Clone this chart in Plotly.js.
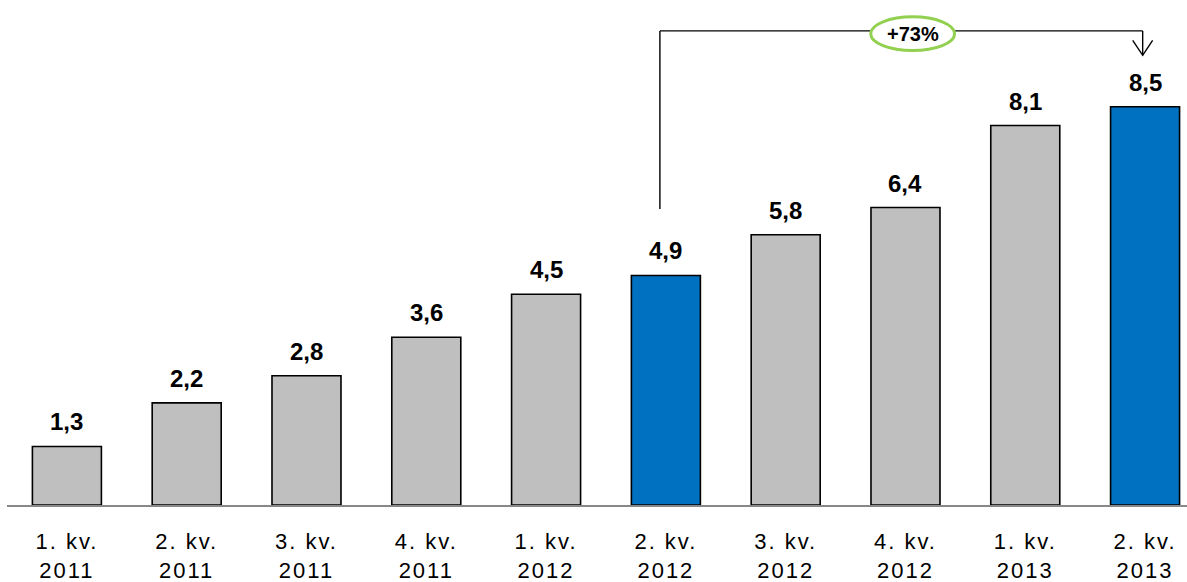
<!DOCTYPE html>
<html>
<head>
<meta charset="utf-8">
<script src="https://cdn.plot.ly/plotly-3.0.1.min.js"></script>
<style>
html,body{margin:0;padding:0;background:#fff}
#chart{width:1187px;height:582px}
#chart .xtick text{letter-spacing:2px}
</style>
</head>
<body>
<div id="chart"></div>
<script>
const quarters = ["1. kv.", "2. kv.", "3. kv.", "4. kv.", "1. kv.", "2. kv.", "3. kv.", "4. kv.", "1. kv.", "2. kv."];
const years = ["2011", "2011", "2011", "2011", "2012", "2012", "2012", "2012", "2013", "2013"];
const values = [1.25, 2.18, 2.76, 3.58, 4.5, 4.9, 5.77, 6.35, 8.1, 8.5];
const valueLabels = ["1,3", "2,2", "2,8", "3,6", "4,5", "4,9", "5,8", "6,4", "8,1", "8,5"];
const highlighted = [false, false, false, false, false, true, false, false, false, true];
const growthLabel = "+73%";

const GRAY = "#BFBFBF", BLUE = "#0070C0";
const FONT = "Liberation Sans, Arial, Helvetica, sans-serif";

const xIdx = values.map((v, i) => i);
const tickText = quarters.map((q, i) => q + "<br>" + years[i]);

const trace = {
  type: "bar",
  x: xIdx,
  y: values,
  width: 0.576,
  marker: {
    color: highlighted.map(h => h ? BLUE : GRAY),
    line: {color: "#000", width: 1.6}
  },
  hoverinfo: "skip"
};

const annotations = values.map((v, i) => ({
  x: i, y: v, xref: "x", yref: "y",
  text: "<b>" + valueLabels[i] + "</b>",
  showarrow: false, yanchor: "bottom", yshift: 9,
  font: {family: FONT, size: 24, color: "#000"}
}));

const from = 5, to = 9;
const topY = 10.12;
const vx0 = from - 0.05, vx1 = to - 0.02;
const tipY = 9.6;
const ovalCx = 7.06, ovalCy = 10.06;
annotations.push({
  x: ovalCx, y: ovalCy, xref: "x", yref: "y",
  text: "<b>" + growthLabel + "</b>", showarrow: false,
  font: {family: FONT, size: 20, color: "#000"}
});

const shapes = [
  {type: "line", xref: "x", yref: "y", x0: vx0, x1: vx0, y0: values[from] + 1.42, y1: topY, line: {color: "#000", width: 1.4}},
  {type: "line", xref: "x", yref: "y", x0: vx0, x1: vx1, y0: topY, y1: topY, line: {color: "#000", width: 1.4}},
  {type: "line", xref: "x", yref: "y", x0: vx1, x1: vx1, y0: topY, y1: tipY, line: {color: "#000", width: 1.4}},
  {type: "path", xref: "x", yref: "y",
   path: `M ${vx1 - 0.083} ${tipY + 0.32} L ${vx1} ${tipY} L ${vx1 + 0.083} ${tipY + 0.32}`,
   line: {color: "#000", width: 1.4}},
  {type: "circle", xref: "x", yref: "y", x0: ovalCx - 0.35, x1: ovalCx + 0.35, y0: ovalCy - 0.36, y1: ovalCy + 0.36,
   fillcolor: "#fff", line: {color: "#92D050", width: 3}}
];

const layout = {
  width: 1187, height: 582,
  margin: {l: 7, r: 0, t: 0, b: 77},
  paper_bgcolor: "#fff", plot_bgcolor: "#fff",
  showlegend: false,
  xaxis: {
    range: [-0.5, 9.35], tickmode: "array", tickvals: xIdx, ticktext: tickText,
    showline: true, linecolor: "#888", linewidth: 2, showgrid: false, zeroline: false,
    ticks: "", ticklabelstandoff: 16,
    tickfont: {family: FONT, size: 22, color: "#000"}, fixedrange: true
  },
  yaxis: {
    range: [0, 10.78], visible: false, showgrid: false, zeroline: false, fixedrange: true
  },
  annotations: annotations,
  shapes: shapes,
  font: {family: FONT}
};

Plotly.newPlot("chart", [trace], layout, {displayModeBar: false, staticPlot: true});
</script>
</body>
</html>
